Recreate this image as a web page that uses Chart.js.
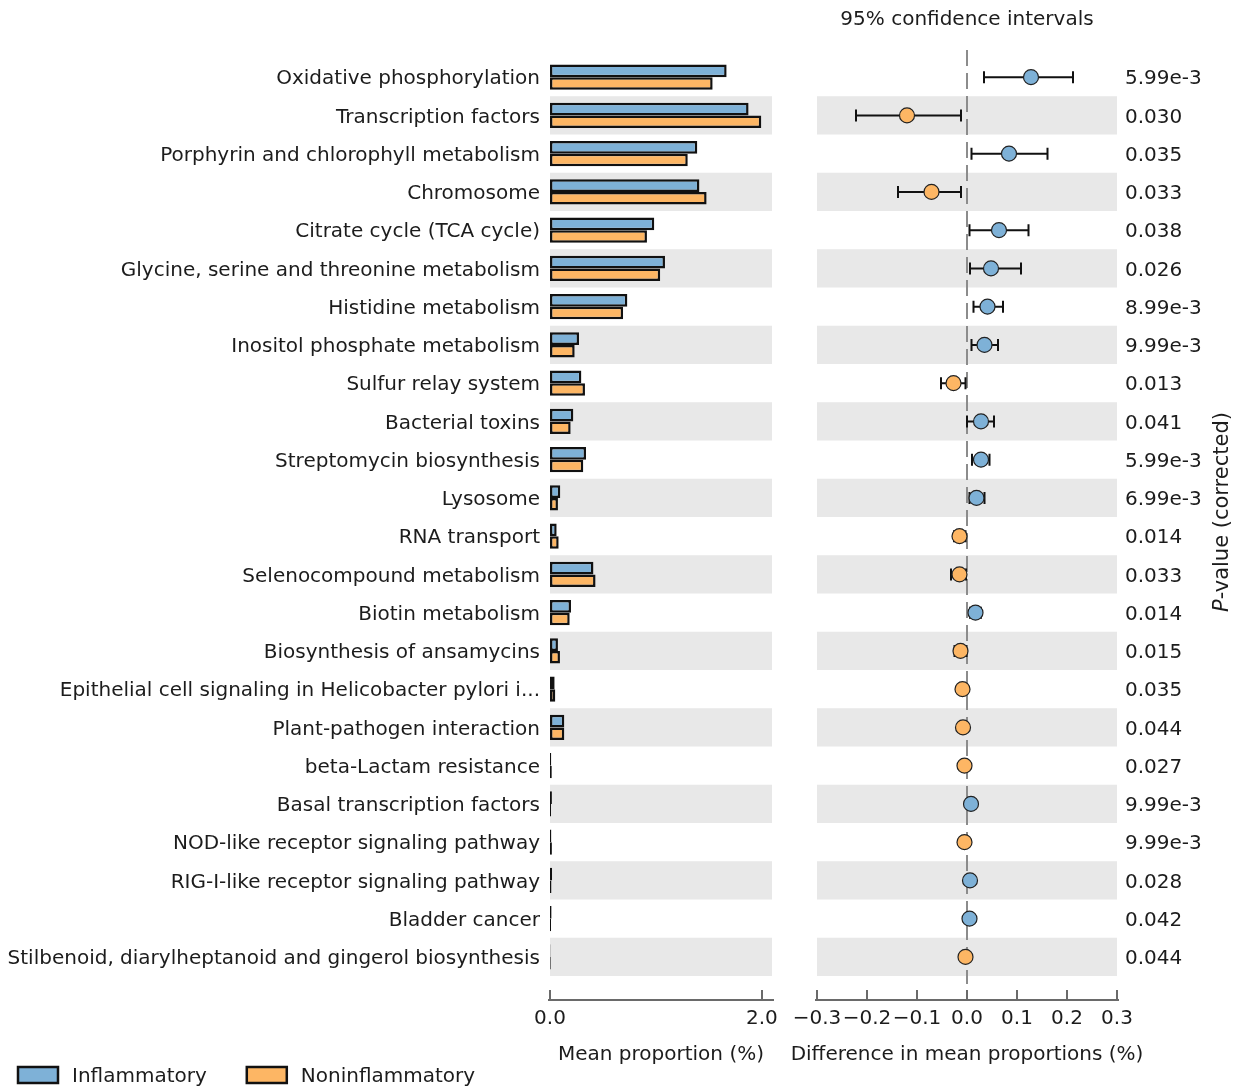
<!DOCTYPE html>
<html>
<head>
<meta charset="utf-8">
<script src="https://cdn.jsdelivr.net/npm/chart.js@4.4.0/dist/chart.umd.min.js"></script>
<style>
  html, body { margin: 0; padding: 0; background: #fff; width: 1238px; height: 1089px; overflow: hidden; }
  #leftBox { position: absolute; left: 0; top: 0; width: 790px; height: 1089px; }
  #rightBox { position: absolute; left: 790px; top: 0; width: 448px; height: 1089px; }
</style>
</head>
<body>
<div id="leftBox"><canvas id="barChart"></canvas></div>
<div id="rightBox"><canvas id="ciChart"></canvas></div>
<script>
var categories = [
    "Oxidative phosphorylation",
    "Transcription factors",
    "Porphyrin and chlorophyll metabolism",
    "Chromosome",
    "Citrate cycle (TCA cycle)",
    "Glycine, serine and threonine metabolism",
    "Histidine metabolism",
    "Inositol phosphate metabolism",
    "Sulfur relay system",
    "Bacterial toxins",
    "Streptomycin biosynthesis",
    "Lysosome",
    "RNA transport",
    "Selenocompound metabolism",
    "Biotin metabolism",
    "Biosynthesis of ansamycins",
    "Epithelial cell signaling in Helicobacter pylori i...",
    "Plant-pathogen interaction",
    "beta-Lactam resistance",
    "Basal transcription factors",
    "NOD-like receptor signaling pathway",
    "RIG-I-like receptor signaling pathway",
    "Bladder cancer",
    "Stilbenoid, diarylheptanoid and gingerol biosynthesis"
];

// mean proportion (%)
var inflammatory = [1.667, 1.874, 1.39, 1.41, 0.984, 1.085, 0.73, 0.274, 0.296, 0.22, 0.34, 0.097,
    0.063, 0.41, 0.198, 0.075, 0.044, 0.135, 0.012, 0.018, 0.013, 0.020, 0.015, 0.004];
var noninflammatory = [1.535, 1.994, 1.30, 1.478, 0.915, 1.04, 0.69, 0.233, 0.33, 0.195, 0.314, 0.075,
    0.082, 0.43, 0.186, 0.094, 0.05, 0.135, 0.017, 0.010, 0.018, 0.014, 0.010, 0.007];

// difference in mean proportions (%) and 95% CI
var diffs = [0.128, -0.120, 0.084, -0.071, 0.064, 0.048, 0.041, 0.035, -0.027, 0.028, 0.028, 0.019,
    -0.015, -0.015, 0.017, -0.013, -0.009, -0.008, -0.005, 0.008, -0.005, 0.006, 0.005, -0.003];
var ciLow = [0.034, -0.222, 0.009, -0.138, 0.005, 0.006, 0.013, 0.009, -0.052, 0.000, 0.010, 0.005,
    -0.026, -0.032, 0.006, -0.025, -0.015, -0.014, -0.009, 0.004, -0.009, 0.002, 0.002, -0.007];
var ciHigh = [0.212, -0.012, 0.161, -0.012, 0.123, 0.108, 0.072, 0.062, -0.003, 0.054, 0.045, 0.035,
    -0.003, -0.002, 0.028, -0.001, -0.003, -0.002, -0.001, 0.012, -0.001, 0.010, 0.008, 0.001];

var pValues = ["5.99e-3", "0.030", "0.035", "0.033", "0.038", "0.026", "8.99e-3", "9.99e-3", "0.013",
    "0.041", "5.99e-3", "6.99e-3", "0.014", "0.033", "0.014", "0.015", "0.035", "0.044", "0.027",
    "9.99e-3", "9.99e-3", "0.028", "0.042", "0.044"];

var groupNames = ["Inflammatory", "Noninflammatory"];
var propTicks = [0, 2];
var diffTicks = [-0.3, -0.2, -0.1, 0, 0.1, 0.2, 0.3];

var blue = "#7eb1d7";
var orange = "#fdb664";
var band = "#e8e8e8";
var textColor = "#1c1c1c";
var spineColor = "#6a6a6a";
var fontFamily = "'DejaVu Sans', sans-serif";

Chart.defaults.font.family = fontFamily;
Chart.defaults.color = textColor;

function rowStep(yScale){
    return yScale.getPixelForValue(1) - yScale.getPixelForValue(0);
}

function drawBands(chart){
    var ctx = chart.ctx;
    var area = chart.chartArea;
    var y = chart.scales.y;
    var step = rowStep(y);
    ctx.save();
    ctx.fillStyle = band;
    for(var i=1; i<categories.length; i+=2){
        var cy = y.getPixelForValue(i);
        ctx.fillRect(area.left, cy - step/2, area.right - area.left, step);
    }
    ctx.restore();
}

// matplotlib-like spine sitting a bit below the plot area
function drawSpine(chart){
    var ctx = chart.ctx;
    var x = chart.scales.x;
    var sy = chart.chartArea.bottom + 24;
    ctx.save();
    ctx.strokeStyle = spineColor;
    ctx.lineWidth = 2;
    ctx.beginPath();
    ctx.moveTo(x.getPixelForValue(x.min) - 2, sy);
    ctx.lineTo(x.getPixelForValue(x.max) + 2, sy);
    ctx.stroke();
    x.ticks.forEach(function(t){
        var px = Math.round(x.getPixelForValue(t.value));
        ctx.beginPath();
        ctx.moveTo(px, sy);
        ctx.lineTo(px, sy - 10);
        ctx.stroke();
    });
    ctx.restore();
}

var barDecor = {
    id: "barDecor",
    beforeDatasetsDraw: function(chart){ drawBands(chart); },
    afterDraw: function(chart){
        drawSpine(chart);
        // legend
        var ctx = chart.ctx;
        ctx.save();
        ctx.font = "20px " + fontFamily;
        ctx.textBaseline = "middle";
        var lx = 18;
        var ly = 1075;
        chart.data.datasets.forEach(function(ds){
            ctx.fillStyle = ds.backgroundColor;
            ctx.fillRect(lx, ly - 8, 40, 16);
            ctx.strokeStyle = "#111";
            ctx.lineWidth = 2.5;
            ctx.strokeRect(lx, ly - 8, 40, 16);
            ctx.fillStyle = textColor;
            ctx.fillText(ds.label, lx + 54, ly + 2);
            lx += 54 + ctx.measureText(ds.label).width + 40;
        });
        ctx.restore();
    }
};

var ciDecor = {
    id: "ciDecor",
    beforeDatasetsDraw: function(chart){
        drawBands(chart);
        var ctx = chart.ctx;
        var x = chart.scales.x;
        var y = chart.scales.y;
        var area = chart.chartArea;
        // dashed zero line
        var zx = Math.round(x.getPixelForValue(0));
        ctx.save();
        ctx.strokeStyle = "#8c8c8c";
        ctx.lineWidth = 2;
        ctx.setLineDash([16, 7]);
        ctx.beginPath();
        ctx.moveTo(zx, area.top - 8);
        ctx.lineTo(zx, area.bottom + 8);
        ctx.stroke();
        ctx.restore();
        // error bars
        ctx.save();
        ctx.strokeStyle = "#111";
        ctx.lineWidth = 2;
        for(var i=0; i<diffs.length; i++){
            var cy = y.getPixelForValue(i);
            var x0 = x.getPixelForValue(ciLow[i]);
            var x1 = x.getPixelForValue(ciHigh[i]);
            ctx.beginPath();
            ctx.moveTo(x0, cy);
            ctx.lineTo(x1, cy);
            ctx.moveTo(x0, cy - 6);
            ctx.lineTo(x0, cy + 6);
            ctx.moveTo(x1, cy - 6);
            ctx.lineTo(x1, cy + 6);
            ctx.stroke();
        }
        ctx.restore();
    },
    afterDraw: function(chart){
        drawSpine(chart);
        var ctx = chart.ctx;
        var area = chart.chartArea;
        // x axis title (wider than the plot area, so drawn here)
        ctx.save();
        ctx.fillStyle = textColor;
        ctx.font = "20px " + fontFamily;
        ctx.textAlign = "center";
        ctx.textBaseline = "middle";
        ctx.fillText("Difference in mean proportions (%)", (area.left + area.right) / 2, 1055);
        ctx.restore();
        // rotated p-value axis label
        ctx.save();
        ctx.translate(433, 512);
        ctx.rotate(-Math.PI / 2);
        ctx.fillStyle = textColor;
        ctx.textBaseline = "middle";
        ctx.font = "italic 21px " + fontFamily;
        var pw = ctx.measureText("P").width;
        ctx.font = "21px " + fontFamily;
        var rest = "-value (corrected)";
        var total = pw + ctx.measureText(rest).width;
        ctx.font = "italic 21px " + fontFamily;
        ctx.fillText("P", -total/2, 0);
        ctx.font = "21px " + fontFamily;
        ctx.fillText(rest, -total/2 + pw, 0);
        ctx.restore();
    }
};

var barChart = new Chart("barChart", {
    type: "bar",
    data: {
        labels: categories,
        datasets: [
            {
                label: groupNames[0],
                data: inflammatory,
                backgroundColor: blue,
                borderColor: "#111",
                borderWidth: 2.5,
                borderSkipped: false,
                categoryPercentage: 0.66,
                barPercentage: 1.0
            },
            {
                label: groupNames[1],
                data: noninflammatory,
                backgroundColor: orange,
                borderColor: "#111",
                borderWidth: 2.5,
                borderSkipped: false,
                categoryPercentage: 0.66,
                barPercentage: 1.0
            }
        ]
    },
    options: {
        indexAxis: "y",
        responsive: true,
        maintainAspectRatio: false,
        animation: false,
        layout: { padding: { top: 58, right: 18, left: 0, bottom: 0 } },
        plugins: {
            legend: { display: false },
            tooltip: { enabled: false }
        },
        scales: {
            x: {
                min: 0,
                max: 2.095,
                grid: { display: false, drawTicks: true, tickLength: 31 },
                border: { display: false },
                afterBuildTicks: function(scale){
                    scale.ticks = propTicks.map(function(v){ return { value: v }; });
                },
                afterFit: function(scale){ scale.height = 113; },
                ticks: {
                    padding: 0,
                    font: { size: 20 },
                    color: textColor,
                    maxRotation: 0,
                    autoSkip: false,
                    callback: function(v){ return Number(v).toFixed(1); }
                },
                title: {
                    display: true,
                    text: "Mean proportion (%)",
                    font: { size: 20 },
                    color: textColor,
                    padding: { top: 0, bottom: 22 }
                }
            },
            y: {
                grid: { display: false, drawTicks: false },
                border: { display: false },
                afterFit: function(scale){ scale.width = 550; },
                ticks: {
                    padding: 10,
                    labelOffset: 2,
                    font: { size: 20 },
                    color: textColor,
                    autoSkip: false
                }
            }
        }
    },
    plugins: [barDecor]
});

var ciChart = new Chart("ciChart", {
    type: "scatter",
    data: {
        datasets: [{
            label: "difference",
            data: categories.map(function(c, i){ return { x: diffs[i], y: c }; }),
            pointRadius: 7.5,
            pointHoverRadius: 7.5,
            pointBackgroundColor: diffs.map(function(d){ return d > 0 ? blue : orange; }),
            pointBorderColor: "#222",
            pointBorderWidth: 1.2
        }]
    },
    options: {
        responsive: true,
        maintainAspectRatio: false,
        animation: false,
        layout: { padding: { top: 0, right: 0, left: 27, bottom: 0 } },
        plugins: {
            legend: { display: false },
            tooltip: { enabled: false }
        },
        scales: {
            x: {
                type: "linear",
                min: -0.3,
                max: 0.3,
                grid: { display: false, drawTicks: true, tickLength: 31 },
                border: { display: false },
                afterBuildTicks: function(scale){
                    scale.ticks = diffTicks.map(function(v){ return { value: v }; });
                },
                afterFit: function(scale){ scale.height = 113; },
                ticks: {
                    padding: 0,
                    font: { size: 20 },
                    color: textColor,
                    maxRotation: 0,
                    autoSkip: false,
                    callback: function(v){
                        var s = Math.abs(v) < 1e-9 ? "0.0" : Number(v).toFixed(1);
                        return s.replace("-", "\u2212");
                    }
                }
            },
            x2: {
                type: "linear",
                position: "top",
                grid: { display: false, drawTicks: false },
                border: { display: false },
                ticks: { display: false },
                afterFit: function(scale){ scale.height = 58; },
                title: {
                    display: true,
                    text: "95% confidence intervals",
                    font: { size: 20 },
                    color: textColor,
                    padding: { top: 8, bottom: 0 }
                }
            },
            y: {
                type: "category",
                labels: categories,
                offset: true,
                position: "right",
                grid: { display: false, drawTicks: false },
                border: { display: false },
                afterFit: function(scale){ scale.width = 121; },
                ticks: {
                    padding: 8,
                    labelOffset: 2,
                    font: { size: 20 },
                    color: textColor,
                    autoSkip: false,
                    callback: function(v, i){ return pValues[i]; }
                }
            }
        }
    },
    plugins: [ciDecor]
});
</script>
</body>
</html>
